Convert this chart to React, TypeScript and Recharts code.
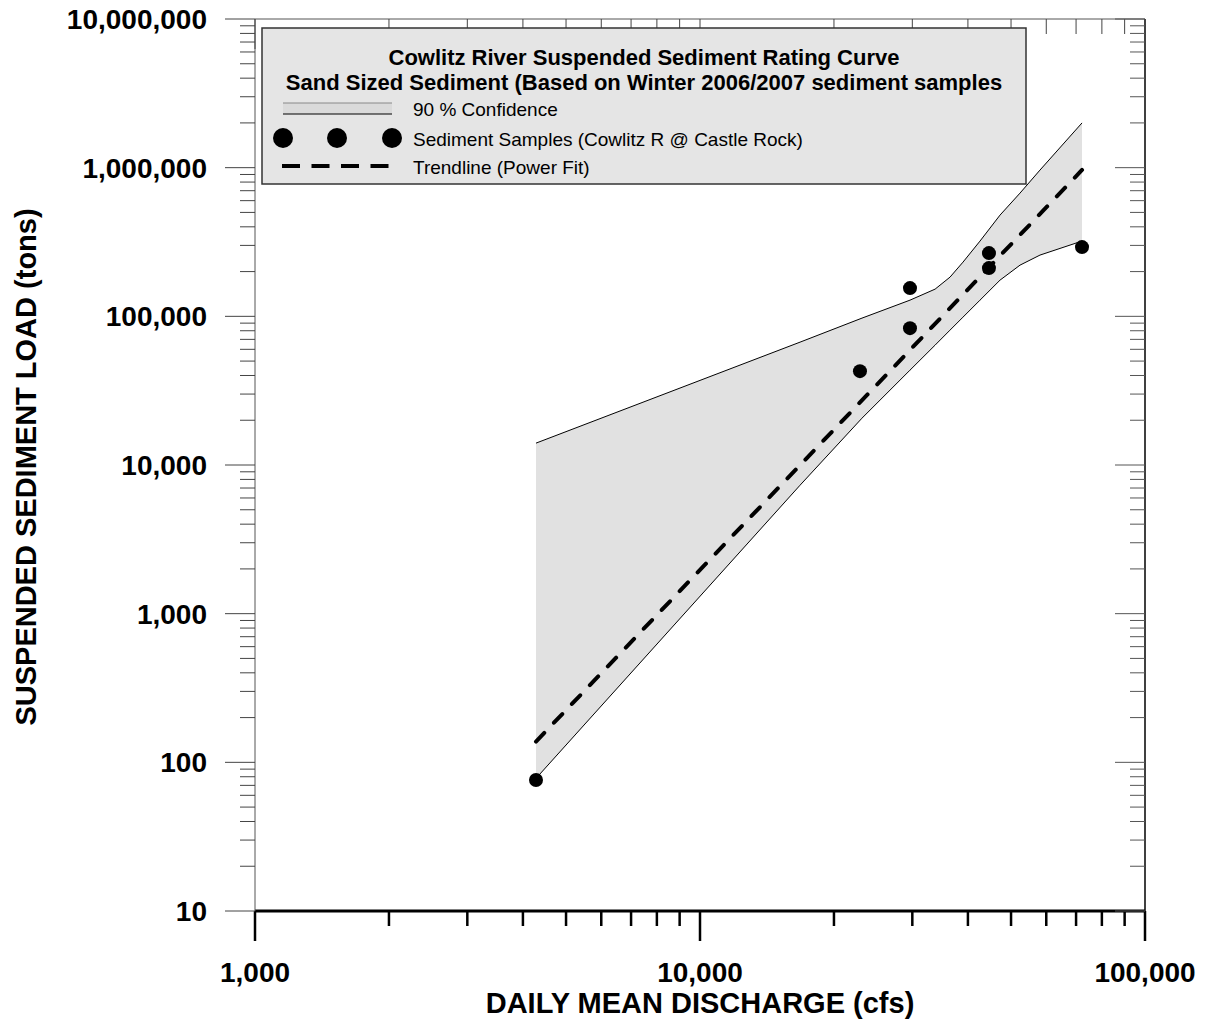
import React from "react";
import { Area, ComposedChart, Legend, Line, Scatter, XAxis, YAxis } from "recharts";

// 90% confidence band, read at matching discharges (cfs)
const bandQ = [4280, 16780, 23120, 29640, 33750, 36460, 39000, 42580, 47230, 52380, 58080, 72190];
const bandLow = [78, 7310, 20650, 43450, 64000, 80750, 98800, 128500, 175200, 221000, 258200, 320700];
const bandHigh = [14030, 67050, 97270, 128500, 152400, 183500, 231600, 320700, 479700, 674600, 963500, 2000000];

// sediment samples (Cowlitz R @ Castle Rock)
const sampleQ = [4280, 22880, 29640, 29640, 44600, 44600, 72190];
const sampleLoad = [76, 42800, 154800, 83300, 266300, 211000, 292200];

// power-fit trendline end points
const trendQ = [4280, 72190];
const trendLoad = [138, 965000];

const xDecades = [1000, 10000, 100000];
const yDecades = [10, 100, 1000, 10000, 100000, 1000000, 10000000];
const minorSteps = [2, 3, 4, 5, 6, 7, 8, 9];

const xTicks = [...xDecades, ...xDecades.slice(0, -1).flatMap((d) => minorSteps.map((s) => d * s))];
const yTicks = [...yDecades, ...yDecades.slice(0, -1).flatMap((d) => minorSteps.map((s) => d * s))];

const band = bandQ.map((x, i) => ({ x, range: [bandLow[i], bandHigh[i]] }));
const samples = sampleQ.map((x, i) => ({ x, y: sampleLoad[i] }));
const trend = trendQ.map((x, i) => ({ x, y: trendLoad[i] }));

const font = "'Liberation Sans', Arial, Helvetica, sans-serif";
const isMajor = (v: number) => Math.abs(Math.log10(v) - Math.round(Math.log10(v))) < 1e-9;
const fmt = (v: number) => v.toLocaleString("en-US");

function LeftTick({ x, y, payload }: any) {
  const major = isMajor(payload.value);
  return (
    <g>
      <line x1={x} x2={x - (major ? 30 : 15)} y1={y} y2={y} stroke="#444" strokeWidth={1} />
      {major && (
        <text x={x - 48} y={y + 10} textAnchor="end" fontFamily={font} fontWeight="bold" fontSize={28} fill="#000">
          {fmt(payload.value)}
        </text>
      )}
    </g>
  );
}

function RightTick({ x, y, payload }: any) {
  const major = isMajor(payload.value);
  return <line x1={x} x2={x - (major ? 30 : 15)} y1={y} y2={y} stroke="#555" strokeWidth={1} />;
}

function TopTick({ x, y, payload }: any) {
  const major = isMajor(payload.value);
  return <line x1={x} x2={x} y1={y} y2={y + (major ? 30 : 15)} stroke="#444" strokeWidth={1} />;
}

function BottomTick({ x, y, payload }: any) {
  const major = isMajor(payload.value);
  return (
    <g>
      <line x1={x} x2={x} y1={y} y2={y + (major ? 30 : 15)} stroke="#000" strokeWidth={2.5} />
      {major && (
        <text x={x} y={y + 71} textAnchor="middle" fontFamily={font} fontWeight="bold" fontSize={28} fill="#000">
          {fmt(payload.value)}
        </text>
      )}
    </g>
  );
}

function LegendBox() {
  return (
    <svg width={768} height={160} style={{ display: "block" }}>
      <rect x={1} y={1} width={764} height={156} fill="#e5e5e5" stroke="#333" strokeWidth={1.5} />
      <g fontFamily={font} fill="#000">
        <text x={383} y={38} textAnchor="middle" fontWeight="bold" fontSize={22}>
          Cowlitz River Suspended Sediment Rating Curve
        </text>
        <text x={383} y={63} textAnchor="middle" fontWeight="bold" fontSize={22}>
          Sand Sized Sediment (Based on Winter 2006/2007 sediment samples
        </text>
        <text x={152} y={89} fontSize={19}>90 % Confidence</text>
        <text x={152} y={119} fontSize={19}>Sediment Samples (Cowlitz R @ Castle Rock)</text>
        <text x={152} y={147} fontSize={19}>Trendline (Power Fit)</text>
      </g>
      <rect x={22} y={76} width={109} height={11} fill="#dadada" />
      <line x1={22} x2={131} y1={76} y2={76} stroke="#888" strokeWidth={1} />
      <line x1={22} x2={131} y1={87} y2={87} stroke="#000" strokeWidth={1} />
      {[22, 76, 131].map((cx) => (
        <circle key={cx} cx={cx} cy={111} r={10} fill="#000" />
      ))}
      <line x1={21} x2={128} y1={139} y2={139} stroke="#000" strokeWidth={4} strokeDasharray="18 11.5" />
    </svg>
  );
}

export default function App() {
  return (
    <div style={{ position: "absolute", left: 0, top: 0, width: 1205, height: 1019, background: "#fff" }}>
      <ComposedChart width={1205} height={1019} margin={{ top: 0, right: 0, bottom: 0, left: 0 }}>
        <XAxis
          xAxisId="b"
          dataKey="x"
          type="number"
          scale="log"
          domain={[1000, 100000]}
          allowDataOverflow
          ticks={xTicks}
          interval={0}
          height={108}
          tickSize={0}
          tickMargin={0}
          tickLine={false}
          tick={BottomTick}
          axisLine={{ stroke: "#000", strokeWidth: 3 }}
          label={{
            content: ({ viewBox }: any) => (
              <text
                x={viewBox.x + viewBox.width / 2}
                y={viewBox.y + 102}
                textAnchor="middle"
                fontFamily={font}
                fontWeight="bold"
                fontSize={29}
                fill="#000"
              >
                DAILY MEAN DISCHARGE (cfs)
              </text>
            ),
          }}
        />
        <XAxis
          xAxisId="t"
          orientation="top"
          dataKey="x"
          type="number"
          scale="log"
          domain={[1000, 100000]}
          allowDataOverflow
          ticks={xTicks}
          interval={0}
          height={19}
          tickSize={0}
          tickMargin={0}
          tickLine={false}
          tick={TopTick}
          axisLine={{ stroke: "#555", strokeWidth: 1 }}
        />
        <YAxis
          yAxisId="l"
          type="number"
          scale="log"
          domain={[10, 10000000]}
          allowDataOverflow
          ticks={yTicks}
          interval={0}
          width={255}
          tickSize={0}
          tickMargin={0}
          tickLine={false}
          tick={LeftTick}
          axisLine={{ stroke: "#555", strokeWidth: 1 }}
          label={{
            content: ({ viewBox }: any) => {
              const cy = viewBox.y + viewBox.height / 2 + 2;
              return (
                <text
                  x={36}
                  y={cy}
                  transform={`rotate(-90 36 ${cy})`}
                  textAnchor="middle"
                  fontFamily={font}
                  fontWeight="bold"
                  fontSize={29}
                  fill="#000"
                >
                  SUSPENDED SEDIMENT LOAD (tons)
                </text>
              );
            },
          }}
        />
        <YAxis
          yAxisId="r"
          orientation="right"
          type="number"
          scale="log"
          domain={[10, 10000000]}
          allowDataOverflow
          ticks={yTicks}
          interval={0}
          width={60}
          tickSize={0}
          tickMargin={0}
          tickLine={false}
          tick={RightTick}
          axisLine={{ stroke: "#000", strokeWidth: 1.5 }}
        />
        <Area
          xAxisId="b"
          yAxisId="l"
          data={band}
          dataKey="range"
          type="linear"
          stroke="#000"
          strokeWidth={1}
          fill="#e1e1e1"
          fillOpacity={1}
          dot={false}
          activeDot={false}
          isAnimationActive={false}
        />
        <Line
          xAxisId="b"
          yAxisId="l"
          data={trend}
          dataKey="y"
          type="linear"
          stroke="#000"
          strokeWidth={4}
          strokeDasharray="12 14"
          strokeLinecap="round"
          dot={false}
          activeDot={false}
          isAnimationActive={false}
        />
        <Scatter
          xAxisId="b"
          yAxisId="l"
          data={samples}
          dataKey="y"
          fill="#000"
          shape={(p: any) => <circle cx={p.cx} cy={p.cy} r={7} fill="#000" />}
          isAnimationActive={false}
        />
        <Legend
          layout="vertical"
          align="center"
          verticalAlign="middle"
          wrapperStyle={{ position: "absolute", left: 261, top: 27, width: 768, height: 160 }}
          content={() => <LegendBox />}
        />
      </ComposedChart>
    </div>
  );
}
